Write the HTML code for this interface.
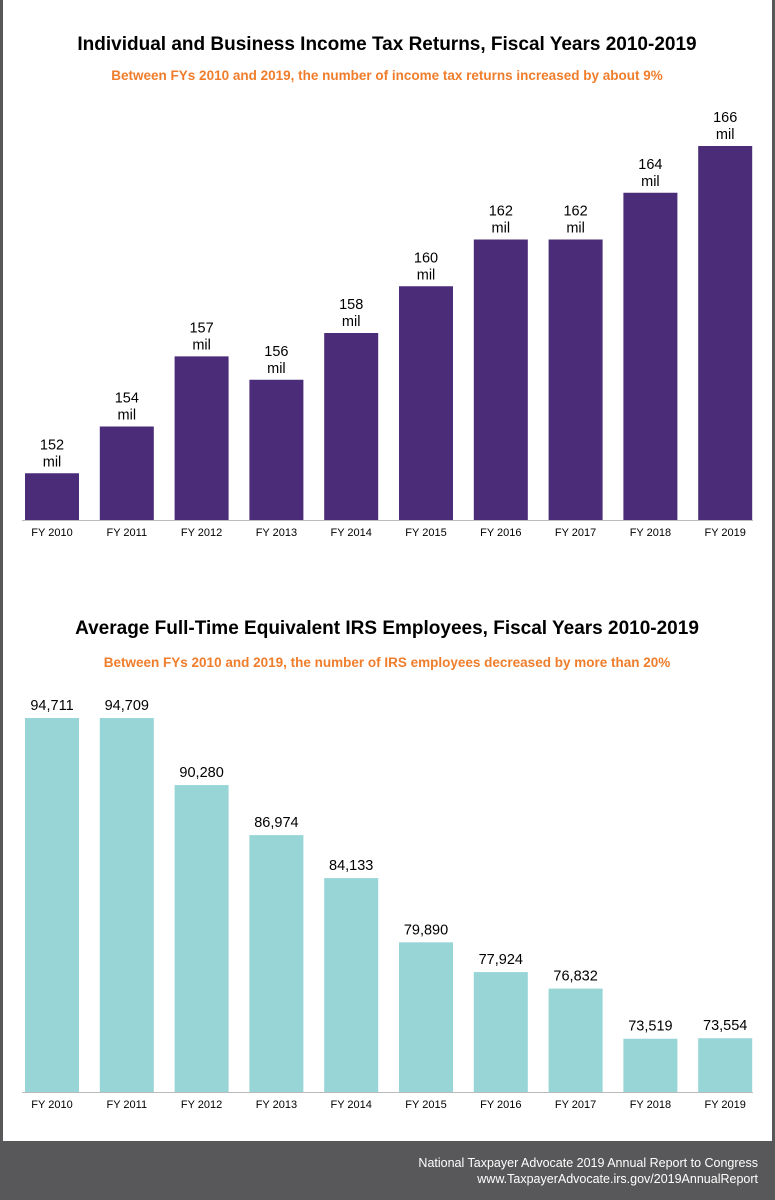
<!DOCTYPE html>
<html><head><meta charset="utf-8"><style>
body{margin:0;width:775px;height:1200px;background:#58585a;font-family:"Liberation Sans",sans-serif;overflow:hidden}
#page{position:absolute;left:3px;top:0;width:769px;height:1141px;background:#fff}
#footer{position:absolute;right:17px;top:1155px;color:#fff;font-size:12.5px;text-align:right;line-height:16px}
</style></head><body>
<div id="page">
<svg width="775" height="1141" style="position:absolute;left:-3px;top:0">
<text x="387" y="50" text-anchor="middle" font-size="19" font-weight="bold" fill="#000">Individual and Business Income Tax Returns, Fiscal Years 2010-2019</text>
<text x="387" y="80" text-anchor="middle" font-size="13.5" font-weight="bold" fill="#f07d2b">Between FYs 2010 and 2019, the number of income tax returns increased by about 9%</text>
<text x="387" y="634" text-anchor="middle" font-size="19" font-weight="bold" fill="#000">Average Full-Time Equivalent IRS Employees, Fiscal Years 2010-2019</text>
<text x="387" y="667" text-anchor="middle" font-size="13.5" font-weight="bold" fill="#f07d2b">Between FYs 2010 and 2019, the number of IRS employees decreased by more than 20%</text>
<g id="c1"></g><g id="c2"></g>
</svg>
</div>
<div id="footer">National Taxpayer Advocate 2019 Annual Report to Congress<br>www.TaxpayerAdvocate.irs.gov/2019AnnualReport</div>
<script>
const categories=["FY 2010","FY 2011","FY 2012","FY 2013","FY 2014","FY 2015","FY 2016","FY 2017","FY 2018","FY 2019"];
const returnsMil=[152,154,157,156,158,160,162,162,164,166];
const employees=[94711,94709,90280,86974,84133,79890,77924,76832,73519,73554];
const NS="http://www.w3.org/2000/svg";
function mk(tag,attrs,parent){const e=document.createElementNS(NS,tag);for(const k in attrs)e.setAttribute(k,attrs[k]);parent.appendChild(e);return e;}
function xPos(i){return 25+i*74.8;}
function draw(gid,vals,min,max,base,top,color,fmt,twoLine,key){
  const g=document.getElementById(gid);
  const y=v=>base-(v-min)/(max-min)*(base-top);
  const ax=mk('line',{x1:22,x2:753,y1:base+0.5,y2:base+0.5,stroke:'#bbb','stroke-width':1},g);
  
  
  vals.forEach((v,i)=>{
    const x=xPos(i),yt=y(v);
    const r=mk('rect',{x:x,y:yt,width:54,height:base-yt,fill:color},g);
    
    
    const t=mk('text',{x:x+27,y:base+16,'text-anchor':'middle','font-size':11,fill:'#000'},g);
    t.textContent=categories[i];
    
    
    if(twoLine){
      const a=mk('text',{x:x+27,y:yt-24,'text-anchor':'middle','font-size':14.5,fill:'#000'},g);
      a.textContent=fmt(v);
      
      
      const b=mk('text',{x:x+27,y:yt-7,'text-anchor':'middle','font-size':14.5,fill:'#000'},g);
      b.textContent='mil';
      
      
    }else{
      const a=mk('text',{x:x+27,y:yt-8,'text-anchor':'middle','font-size':14.5,fill:'#000'},g);
      a.textContent=fmt(v);
      
      
    }
  });
}
draw('c1',returnsMil,150,166,520,146,'#4b2c78',v=>String(v),true,'returns');
draw('c2',employees,70000,94711,1092,718,'#98d5d6',v=>v.toLocaleString('en-US'),false,'employees');
</script>
</body></html>
